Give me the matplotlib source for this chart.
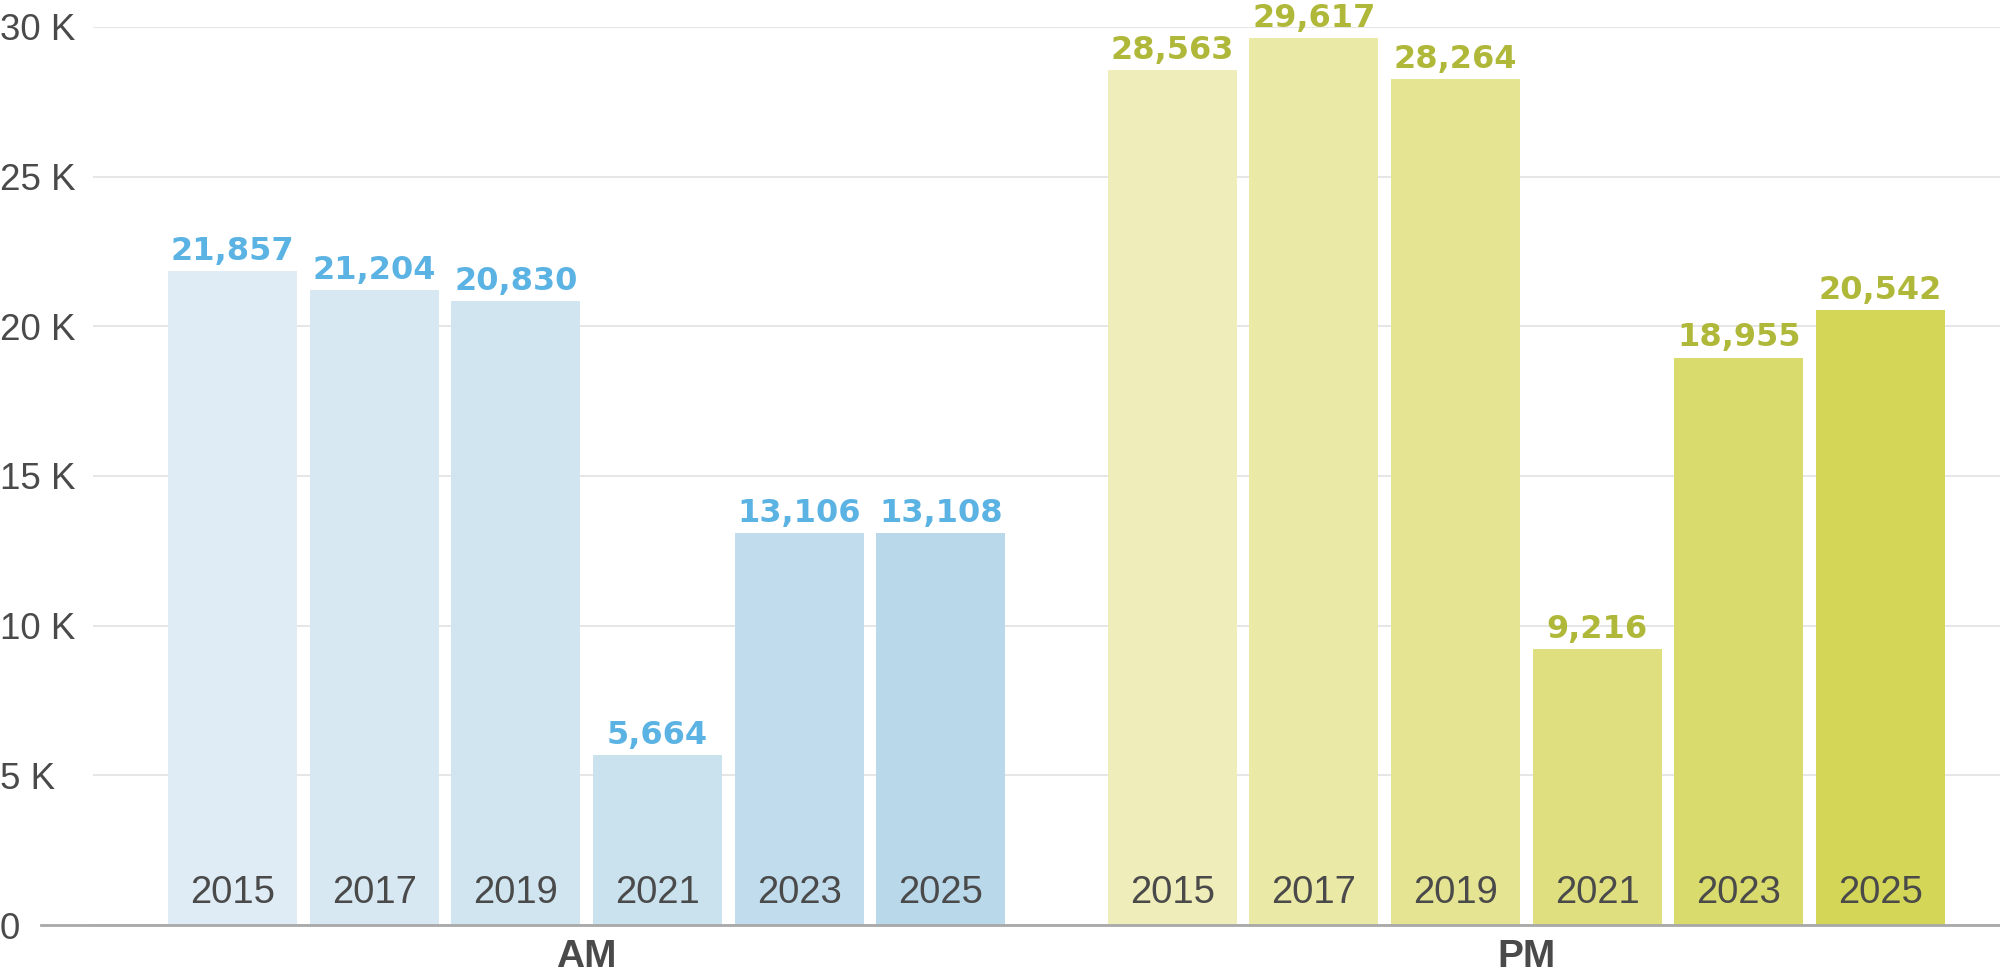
import numpy as np
import matplotlib
matplotlib.use('Agg')
import matplotlib.pyplot as plt
from matplotlib.ticker import FuncFormatter

# data
years = ['2015', '2017', '2019', '2021', '2023', '2025']
groups = ['AM', 'PM']
am_values = [21857, 21204, 20830, 5664, 13106, 13108]
pm_values = [28563, 29617, 28264, 9216, 18955, 20542]

am_colors = ['#dfecf5', '#d8e8f2', '#d1e5f0', '#cae1ee', '#c1dcec', '#b9d8ea']
pm_colors = ['#efedb9', '#ebe9a6', '#e5e493', '#dfdf80', '#d9db6d', '#d3d657']
am_label_color = '#5bb3e4'
pm_label_color = '#b0b83a'
text_color = '#4a4a4a'

plt.rcParams['font.family'] = ['Liberation Sans', 'DejaVu Sans']

fig = plt.figure(figsize=(20, 9.77), dpi=100)
ax = fig.add_axes([0.0465, 0.0532, 0.9535, 0.9192])

width = 0.91
group_gap = 0.635
x_am = np.arange(len(years), dtype=float)
x_pm = x_am + len(years) + group_gap

for xs, vals, cols, lc in [(x_am, am_values, am_colors, am_label_color),
                           (x_pm, pm_values, pm_colors, pm_label_color)]:
    ax.bar(xs, vals, width=width, color=cols, zorder=2)
    for x, v, yr in zip(xs, vals, years):
        ax.annotate(f'{v:,}', (x, v), xytext=(0, 8), textcoords='offset points',
                    ha='center', va='baseline', color=lc, fontsize=23,
                    fontweight='bold', family='DejaVu Sans')
        ax.annotate(yr, (x, 0), xytext=(0, 16), textcoords='offset points',
                    ha='center', va='baseline', color=text_color, fontsize=27.5)

# group labels under the axis
for xs, name in [(x_am, groups[0]), (x_pm, groups[1])]:
    ax.annotate(name, (xs.mean(), 0), xytext=(0, -30), textcoords='offset points',
                ha='center', va='baseline', color=text_color, fontsize=28,
                fontweight='bold')

ax.set_xlim(-0.986, 12.48)
ax.set_ylim(0, 30000)
ax.set_yticks(np.arange(0, 30001, 5000))
ax.yaxis.set_major_formatter(FuncFormatter(lambda v, p: '0' if v == 0 else f'{v/1000:.0f} K'))
ax.tick_params(axis='y', length=0, pad=67, labelsize=26.5, labelcolor=text_color)
for lab in ax.get_yticklabels():
    lab.set_horizontalalignment('left')
ax.set_xticks([])
ax.yaxis.grid(True, color='#e2e2e2', linewidth=1.2, zorder=0)
ax.set_axisbelow(True)
for s in ax.spines.values():
    s.set_visible(False)
ax.axhline(0, xmin=-0.0273, xmax=1, color='#a8a8a8', linewidth=2, clip_on=False, zorder=3)

fig.savefig('out.png', dpi=100)
